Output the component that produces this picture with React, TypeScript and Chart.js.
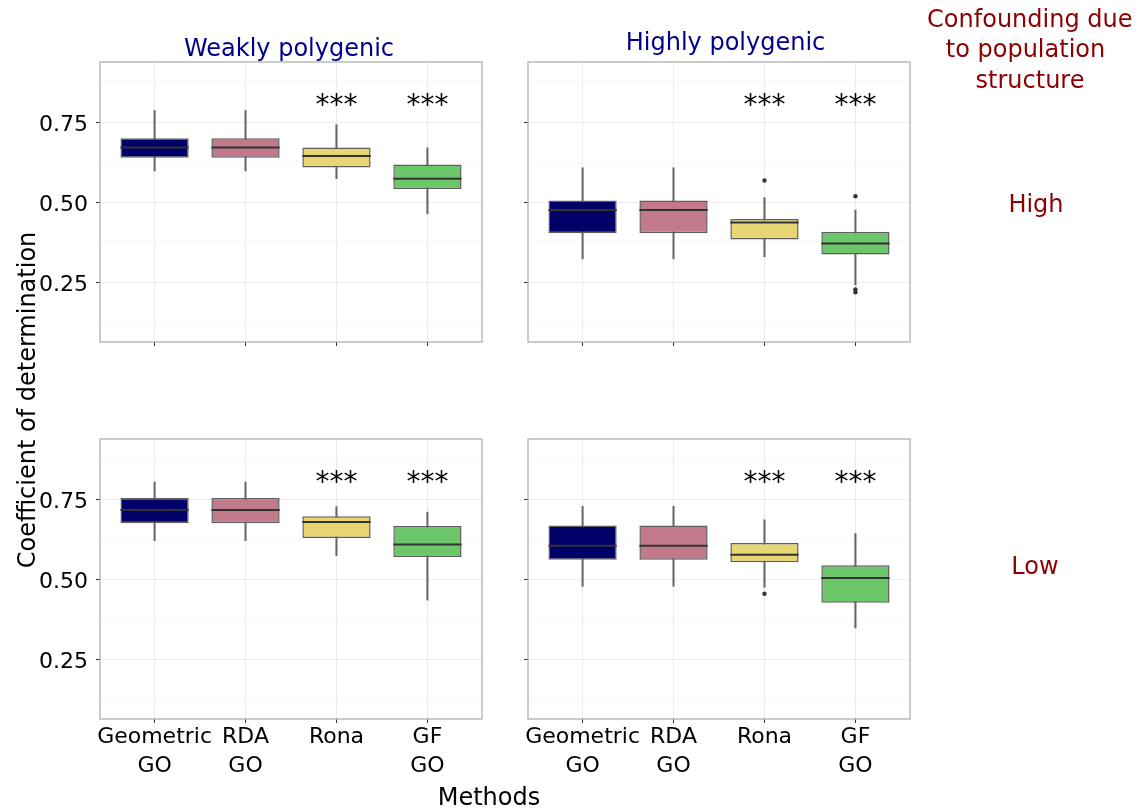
import React, { useEffect, useRef } from "react";
import { Chart, registerables } from "chart.js";

Chart.register(...registerables);
Chart.defaults.font.family = '"DejaVu Sans", Verdana, sans-serif';

// ---------------- data ----------------
const METHOD_LABELS: string[][] = [["Geometric", "GO"], ["RDA", "GO"], ["Rona"], ["GF", "GO"]];
const METHOD_POS = [1, 2, 3, 4];
const BOX_COLORS = ["#000068", "#C27A8A", "#E8D672", "#6CC66A"];
const SIGNIF = ["", "", "***", "***"];
const SIGNIF_Y = 0.82;

const Y_MAJOR = [0.25, 0.5, 0.75];
const Y_MINOR = [0.125, 0.375, 0.625, 0.875];
const Y_MIN = 0.0625;
const Y_MAX = 0.9375;
const X_MIN = 0.4;
const X_MAX = 4.6;

// Weakly polygenic / High confounding
const WH_LOWER = [0.597, 0.597, 0.573, 0.463];
const WH_Q1 = [0.638, 0.638, 0.608, 0.541];
const WH_MEDIAN = [0.67, 0.67, 0.644, 0.573];
const WH_Q3 = [0.699, 0.699, 0.67, 0.617];
const WH_UPPER = [0.786, 0.786, 0.742, 0.669];
const WH_OUT_X: number[] = [];
const WH_OUT_Y: number[] = [];

// Highly polygenic / High confounding
const HH_LOWER = [0.322, 0.322, 0.329, 0.241];
const HH_Q1 = [0.402, 0.402, 0.383, 0.336];
const HH_MEDIAN = [0.475, 0.475, 0.436, 0.37];
const HH_Q3 = [0.505, 0.505, 0.447, 0.406];
const HH_UPPER = [0.607, 0.607, 0.514, 0.475];
const HH_OUT_X = [3, 4, 4, 4];
const HH_OUT_Y = [0.567, 0.518, 0.227, 0.218];

// Weakly polygenic / Low confounding
const WL_LOWER = [0.62, 0.62, 0.573, 0.434];
const WL_Q1 = [0.674, 0.674, 0.628, 0.569];
const WL_MEDIAN = [0.716, 0.716, 0.678, 0.608];
const WL_Q3 = [0.753, 0.753, 0.696, 0.666];
const WL_UPPER = [0.803, 0.803, 0.726, 0.709];
const WL_OUT_X: number[] = [];
const WL_OUT_Y: number[] = [];

// Highly polygenic / Low confounding
const HL_LOWER = [0.477, 0.477, 0.474, 0.347];
const HL_Q1 = [0.56, 0.56, 0.552, 0.426];
const HL_MEDIAN = [0.604, 0.604, 0.576, 0.503];
const HL_Q3 = [0.667, 0.667, 0.6125, 0.543];
const HL_UPPER = [0.727, 0.727, 0.685, 0.642];
const HL_OUT_X = [3];
const HL_OUT_Y = [0.454];

// ---------------- styles ----------------
const PANEL_W = 382;
const PANEL_H = 280;
const PAD_T = 30;
const PAD_R = 10;
const BOX_WIDTH = 0.75;
const FONT = '"DejaVu Sans", Verdana, sans-serif';

type PanelData = {
  lower: number[];
  q1: number[];
  median: number[];
  q3: number[];
  upper: number[];
  outX: number[];
  outY: number[];
};

const PANELS: Record<string, PanelData> = {
  WH: { lower: WH_LOWER, q1: WH_Q1, median: WH_MEDIAN, q3: WH_Q3, upper: WH_UPPER, outX: WH_OUT_X, outY: WH_OUT_Y },
  HH: { lower: HH_LOWER, q1: HH_Q1, median: HH_MEDIAN, q3: HH_Q3, upper: HH_UPPER, outX: HH_OUT_X, outY: HH_OUT_Y },
  WL: { lower: WL_LOWER, q1: WL_Q1, median: WL_MEDIAN, q3: WL_Q3, upper: WL_UPPER, outX: WL_OUT_X, outY: WL_OUT_Y },
  HL: { lower: HL_LOWER, q1: HL_Q1, median: HL_MEDIAN, q3: HL_Q3, upper: HL_UPPER, outX: HL_OUT_X, outY: HL_OUT_Y },
};

const isMajor = (v: number) => Y_MAJOR.some((m) => Math.abs(m - v) < 1e-9);

const panelPlugin = {
  id: "panelDecor",
  afterDatasetsDraw(chart: any) {
    const { ctx, scales } = chart;
    ctx.save();
    ctx.font = `28px ${FONT}`;
    ctx.fillStyle = "#000";
    ctx.textAlign = "center";
    ctx.textBaseline = "alphabetic";
    SIGNIF.forEach((s, i) => {
      if (!s) return;
      const x = scales.x.getPixelForValue(METHOD_POS[i]);
      const y = scales.y.getPixelForValue(SIGNIF_Y) + 14;
      ctx.fillText(s, x, y);
    });
    ctx.restore();
  },
  afterDraw(chart: any) {
    const { ctx, chartArea } = chart;
    ctx.save();
    ctx.strokeStyle = "#A8A8A8";
    ctx.lineWidth = 1.2;
    ctx.strokeRect(chartArea.left, chartArea.top, chartArea.right - chartArea.left, chartArea.bottom - chartArea.top);
    ctx.restore();
  },
};

function Panel(props: { data: PanelData; left: number; top: number; yW: number; xH: number; showY: boolean; showX: boolean }) {
  const { data, left, top, yW, xH, showY, showX } = props;
  const ref = useRef<HTMLCanvasElement>(null);
  const W = yW + PANEL_W + PAD_R;
  const H = PAD_T + PANEL_H + xH;

  useEffect(() => {
    const canvas = ref.current;
    if (!canvas) return;
    const chart = new Chart(canvas, {
      type: "bar",
      data: {
        datasets: [
          {
            type: "bar",
            label: "whisker",
            data: METHOD_POS.map((x, i) => ({ x, y: [data.lower[i], data.upper[i]] })) as any,
            backgroundColor: "#666666",
            borderWidth: 0,
            barThickness: 1.4,
            grouped: false,
            order: 4,
          } as any,
          {
            type: "bar",
            label: "box",
            data: METHOD_POS.map((x, i) => ({ x, y: [data.q1[i], data.q3[i]] })) as any,
            backgroundColor: BOX_COLORS,
            borderColor: "#5E5E5E",
            borderWidth: 1.5,
            borderSkipped: false,
            barPercentage: BOX_WIDTH,
            categoryPercentage: 1,
            grouped: false,
            order: 3,
          } as any,
          {
            type: "scatter",
            label: "median",
            data: METHOD_POS.map((x, i) => ({ x, y: data.median[i] })),
            pointStyle: "line",
            pointRadius: (c: any) => {
              const xs = c.chart.scales.x;
              return Math.abs(xs.getPixelForValue(1 + BOX_WIDTH / 2) - xs.getPixelForValue(1));
            },
            pointBorderColor: "#333333",
            pointBorderWidth: 2,
            order: 2,
          } as any,
          {
            type: "scatter",
            label: "outliers",
            data: data.outX.map((x, i) => ({ x, y: data.outY[i] })),
            pointRadius: 2.2,
            pointBackgroundColor: "#333333",
            pointBorderWidth: 0,
            order: 1,
          } as any,
        ],
      },
      options: {
        responsive: false,
        animation: false,
        devicePixelRatio: 1,
        layout: { padding: { top: PAD_T, right: PAD_R, left: 0, bottom: 0 } },
        plugins: { legend: { display: false }, tooltip: { enabled: false } },
        scales: {
          x: {
            type: "linear",
            min: X_MIN,
            max: X_MAX,
            offset: false,
            afterBuildTicks: (s: any) => {
              s.ticks = METHOD_POS.map((v) => ({ value: v }));
            },
            afterFit: (s: any) => {
              s.height = xH;
            },
            ticks: {
              display: showX,
              autoSkip: false,
              maxRotation: 0,
              minRotation: 0,
              padding: 0,
              color: "#000",
              font: { size: 22, lineHeight: 29 / 22, family: FONT },
              callback: (v: any) => METHOD_LABELS[METHOD_POS.indexOf(Number(v))] ?? "",
            },
            grid: { offset: false, color: "#EBEBEB", lineWidth: 1, tickColor: "#333333", tickLength: 4, drawTicks: true },
            border: { display: false },
          },
          y: {
            type: "linear",
            min: Y_MIN,
            max: Y_MAX,
            afterBuildTicks: (s: any) => {
              s.ticks = [...Y_MINOR, ...Y_MAJOR].sort((a, b) => a - b).map((v) => ({ value: v }));
            },
            afterFit: (s: any) => {
              s.width = yW;
            },
            ticks: {
              display: showY,
              padding: 8,
              labelOffset: 3,
              color: "#000",
              font: { size: 22, family: FONT },
              callback: (v: any) => (isMajor(Number(v)) ? Number(v).toFixed(2) : ""),
            },
            grid: {
              color: (c: any) => (isMajor(c.tick.value) ? "#EBEBEB" : "#F5F5F5"),
              lineWidth: (c: any) => (isMajor(c.tick.value) ? 1 : 0.8),
              tickColor: (c: any) => (isMajor(c.tick.value) ? "#333333" : "rgba(0,0,0,0)"),
              tickLength: 4,
              drawTicks: true,
            },
            border: { display: false },
          },
        },
      } as any,
      plugins: [panelPlugin],
    });
    return () => chart.destroy();
  }, []);

  return (
    <canvas
      ref={ref}
      width={W}
      height={H}
      style={{ position: "absolute", left, top, width: W, height: H, display: "block" }}
    />
  );
}

function Label(props: { text: string; cx: number; baseline: number; size: number; color: string }) {
  const { text, cx, baseline, size, color } = props;
  const top = baseline - 0.846 * size;
  return (
    <div
      style={{
        position: "absolute",
        left: cx - 300,
        width: 600,
        top,
        textAlign: "center",
        fontFamily: FONT,
        fontSize: size,
        lineHeight: 1,
        color,
        whiteSpace: "nowrap",
      }}
    >
      {text}
    </div>
  );
}

export default function App() {
  const LEFT_X = 100;
  const RIGHT_X = 528;
  const TOP_Y = 62;
  const BOT_Y = 439;
  const LEFT_YW = 100;
  const RIGHT_YW = 60;
  return (
    <div
      style={{
        position: "absolute",
        left: 0,
        top: 0,
        width: 1137,
        height: 808,
        overflow: "hidden",
        background: "#fff",
      }}
    >
      <Panel data={PANELS.WH} left={LEFT_X - LEFT_YW} top={TOP_Y - PAD_T} yW={LEFT_YW} xH={30} showY={true} showX={false} />
      <Panel data={PANELS.HH} left={RIGHT_X - RIGHT_YW} top={TOP_Y - PAD_T} yW={RIGHT_YW} xH={30} showY={false} showX={false} />
      <Panel data={PANELS.WL} left={LEFT_X - LEFT_YW} top={BOT_Y - PAD_T} yW={LEFT_YW} xH={80} showY={true} showX={true} />
      <Panel data={PANELS.HL} left={RIGHT_X - RIGHT_YW} top={BOT_Y - PAD_T} yW={RIGHT_YW} xH={80} showY={false} showX={true} />

      <Label text="Weakly polygenic" cx={289} baseline={56.7} size={24} color="#00008B" />
      <Label text="Highly polygenic" cx={725.5} baseline={50.5} size={24} color="#00008B" />

      <Label text="Confounding due" cx={1029.8} baseline={27.7} size={24} color="#8B0000" />
      <Label text="to population" cx={1025.5} baseline={57.7} size={24} color="#8B0000" />
      <Label text="structure" cx={1030} baseline={88.3} size={24} color="#8B0000" />
      <Label text="High" cx={1036} baseline={212} size={24} color="#8B0000" />
      <Label text="Low" cx={1035} baseline={574.5} size={24} color="#8B0000" />

      <Label text="Methods" cx={489} baseline={805} size={24} color="#000" />

      <div
        style={{
          position: "absolute",
          left: 27.4 - 200,
          top: 399.5 - 12,
          width: 400,
          height: 24,
          textAlign: "center",
          fontFamily: FONT,
          fontSize: 24,
          lineHeight: "24px",
          color: "#000",
          whiteSpace: "nowrap",
          transform: "rotate(-90deg)",
        }}
      >
        Coefficient of determination
      </div>
    </div>
  );
}
